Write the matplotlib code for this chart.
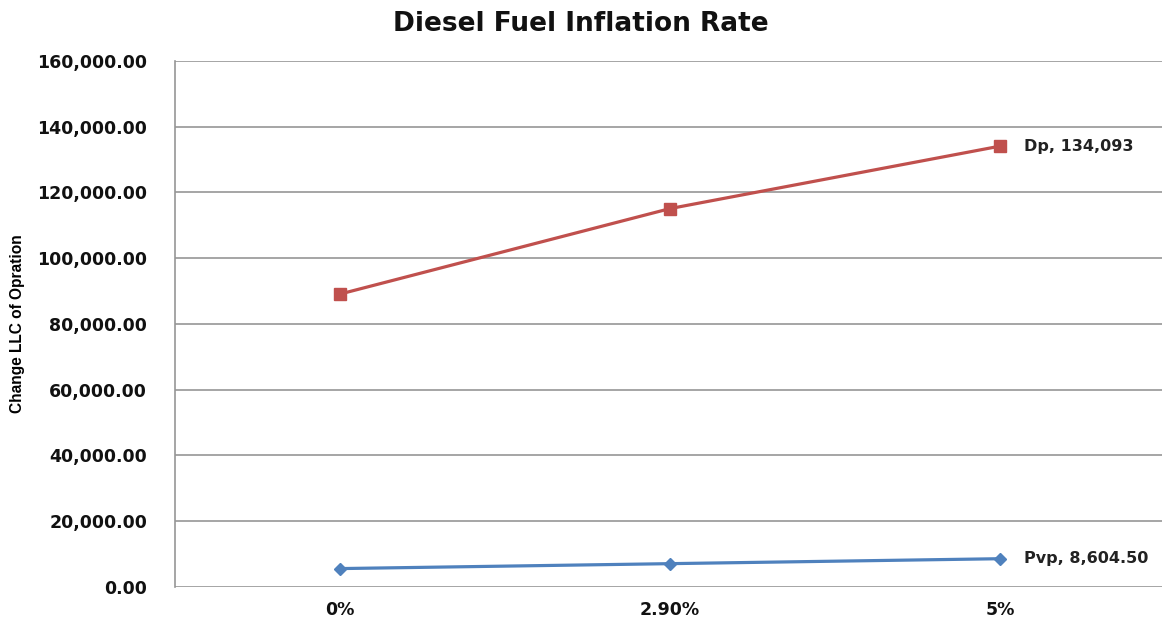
import matplotlib
matplotlib.use("Agg")
import matplotlib.pyplot as plt
from matplotlib.ticker import FuncFormatter

# Diesel fuel inflation scenarios and life-cycle cost change
rates = ["0%", "2.90%", "5%"]
dp_values = [89100, 115100, 134093]
pvp_values = [5600, 7100, 8604.50]
dp_label = "Dp, 134,093"
pvp_label = "Pvp, 8,604.50"

RED = "#C0504D"
BLUE = "#4F81BD"

fig = plt.figure(figsize=(11.62, 6.24), dpi=100)
ax = fig.add_axes([0.1506, 0.0593, 0.852, 0.843])

x = range(len(rates))
ax.plot(x, dp_values, color=RED, linewidth=2.3, marker="s",
        markersize=8.5, zorder=3)
ax.plot(x, pvp_values, color=BLUE, linewidth=2.3, marker="D",
        markersize=6.5, zorder=3)

# end-point data labels
for val, text in [(dp_values[-1], dp_label), (pvp_values[-1], pvp_label)]:
    ax.annotate(text, (x[-1], val), xytext=(17, 0),
                textcoords="offset points", va="center", ha="left",
                fontsize=11.5, fontweight="bold", color="#222222")

ax.set_xlim(-0.5, 2.5)
ax.set_ylim(0, 160000)
ax.set_yticks(range(0, 160001, 20000))
ax.yaxis.set_major_formatter(FuncFormatter(lambda v, p: f"{v:,.2f}"))
ax.set_xticks(list(x))
ax.set_xticklabels(rates)

ax.grid(axis="y", color="#969696", linewidth=1.2)
ax.set_axisbelow(True)
for side in ["top", "right", "bottom"]:
    ax.spines[side].set_visible(False)
ax.spines["left"].set_color("#969696")
ax.spines["left"].set_linewidth(1.2)
ax.tick_params(axis="y", length=0, labelsize=12.5, pad=20)
ax.tick_params(axis="x", length=0, labelsize=12.5, pad=10)
for lab in ax.get_xticklabels() + ax.get_yticklabels():
    lab.set_fontweight("bold")
    lab.set_color("#111111")

ax.set_ylabel("Change LLC of Opration", fontsize=11.2, fontweight="bold",
              family=["Liberation Sans Narrow", "Liberation Sans"],
              labelpad=9)
fig.suptitle("Diesel Fuel Inflation Rate", fontsize=19, fontweight="bold",
             x=0.5, y=0.982, va="top", color="#111111")

fig.savefig("out.png", dpi=100)
